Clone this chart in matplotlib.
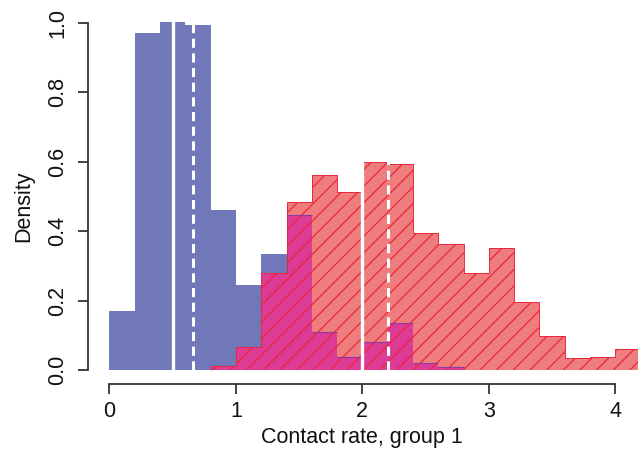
import numpy as np
import matplotlib
matplotlib.use("Agg")
import matplotlib.pyplot as plt

plt.rcParams['font.family'] = ['Liberation Sans', 'DejaVu Sans']
plt.rcParams['hatch.linewidth'] = 0.9

# ---- data ----
blue_edges = np.round(np.arange(0.0, 2.81, 0.2), 2)
blue_density = [0.171, 0.971, 1.002, 0.995, 0.460, 0.245, 0.334, 0.447,
                0.109, 0.037, 0.080, 0.135, 0.021, 0.008]
red_edges = np.round(np.arange(0.8, 4.21, 0.2), 2)
red_density = [0.013, 0.065, 0.279, 0.483, 0.5625, 0.512, 0.599, 0.594,
               0.394, 0.3625, 0.279, 0.353, 0.195, 0.098, 0.034, 0.038, 0.062]
solid_lines = [0.5, 2.0]
dashed_lines = [0.66, 2.2]
x_ticks = [0, 1, 2, 3, 4]
y_ticks = [0.0, 0.2, 0.4, 0.6, 0.8, 1.0]
x_label = "Contact rate, group 1"
y_label = "Density"

blue_c = '#7078b9'
red_c = '#f07d7d'
mag_c = '#dc3c96'
hatch_c = '#e8283c'
purple_c = '#8a3aa0'
axis_c = '#333333'

fig = plt.figure(figsize=(6.38, 4.49), dpi=100)
ax = fig.add_axes([88/638, (449-383.9)/449, 1-88/638, (383.9-9.1)/449])
ax.set_xlim(-0.17, 4.18)
ax.set_ylim(-0.04, 1.04)

# overlap on common grid
all_edges = np.round(np.arange(0.0, 4.21, 0.2), 2)
b_full = np.zeros(len(all_edges)-1)
r_full = np.zeros(len(all_edges)-1)
b_full[:len(blue_density)] = blue_density
r_full[4:4+len(red_density)] = red_density
overlap = np.minimum(b_full, r_full)

ax.stairs(red_density, red_edges, fill=True, color=red_c, zorder=1)
ax.stairs(blue_density, blue_edges, fill=True, color=blue_c, zorder=2)
ax.stairs(overlap, all_edges, fill=True, color=mag_c, zorder=3)
ax.stairs(red_density, red_edges, fill=True, facecolor='none',
          edgecolor=hatch_c, linewidth=0, hatch='//', zorder=4)
ax.stairs(red_density, red_edges, color=hatch_c, linewidth=0.7, zorder=5)
for i in range(len(b_full)):
    if r_full[i] > b_full[i] > 0:
        ax.hlines(b_full[i], all_edges[i], all_edges[i+1], color=purple_c,
                  linewidth=0.8, zorder=5)

ax.vlines(solid_lines, 0, 1.04, color='white', linewidth=2.4, zorder=6)
ax.vlines(dashed_lines, 0, 1.04, color='white', linewidth=2.2,
          linestyle=(0, (3, 1.8)), zorder=6)

for s in ['top', 'right']:
    ax.spines[s].set_visible(False)
ax.spines['left'].set_bounds(0, 1)
ax.spines['bottom'].set_bounds(0, 4)
for s in ['left', 'bottom']:
    ax.spines[s].set_color(axis_c)
    ax.spines[s].set_linewidth(1.3)

ax.set_xticks(x_ticks)
ax.set_xticklabels([str(v) for v in x_ticks])
ax.set_yticks(y_ticks)
ax.set_yticklabels([f"{v:.1f}" for v in y_ticks])
ax.tick_params(axis='both', direction='out', length=7, width=1.3,
               color=axis_c, labelsize=15.5, labelcolor='#111111')
ax.tick_params(axis='x', pad=5.5)
ax.tick_params(axis='y', pad=7, labelrotation=90)
for lab in ax.get_yticklabels():
    lab.set_va('center')

fig.text(362/638, 1-437/449, x_label, ha='center', va='center',
         fontsize=15.5, color='#111111')
fig.text(24/638, 1-206/449, y_label, ha='center', va='center',
         rotation=90, fontsize=15.5, color='#111111')

fig.savefig('out.png', dpi=100)
